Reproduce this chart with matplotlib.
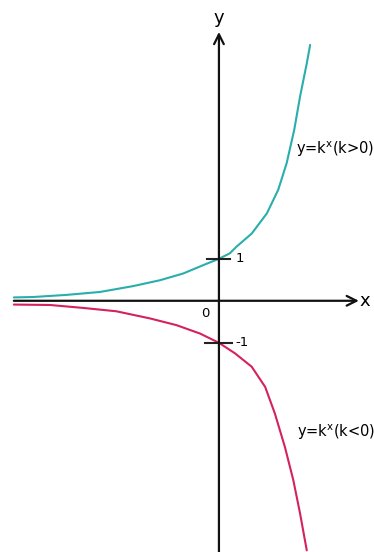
import matplotlib.pyplot as plt

# points (1 unit = tick spacing)
pos_x = [-4.88, -4.42, -3.63, -2.83, -2.04, -1.40, -0.85, -0.37, 0.0, 0.26, 0.42,
         0.78, 1.14, 1.41, 1.61, 1.79, 1.93, 2.09, 2.17]
pos_y = [0.08, 0.09, 0.14, 0.21, 0.35, 0.49, 0.65, 0.85, 1.0, 1.13, 1.29,
         1.60, 2.08, 2.64, 3.27, 4.06, 4.86, 5.65, 6.09]
neg_x = [-4.88, -4.02, -3.23, -2.44, -1.64, -1.01, -0.45, 0.0, 0.38, 0.78,
         1.10, 1.33, 1.57, 1.77, 1.93, 2.09]
neg_y = [-0.09, -0.10, -0.17, -0.25, -0.42, -0.58, -0.78, -1.0, -1.25, -1.57,
         -2.05, -2.68, -3.48, -4.27, -5.06, -5.94]
tick_vals = [1, -1]
tick_labels = ['1', '-1']
curve_labels = [r'y=k$^{\mathregular{x}}$(k>0)', r'y=k$^{\mathregular{x}}$(k<0)']

fig = plt.figure(figsize=(3.74, 5.52), dpi=100)
ax = fig.add_axes([0, 0, 1, 1])
ax.set_xlim(-5.21, 3.69)
ax.set_ylim(-5.98, 7.16)
ax.axis('off')

# axes with open arrow heads
arrow = dict(arrowstyle='->,head_length=0.7,head_width=0.35', lw=1.6, color='#111111',
             shrinkA=0, shrinkB=0)
ax.annotate('', xy=(3.33, 0), xytext=(-4.88, 0), arrowprops=arrow)
ax.annotate('', xy=(0, 6.4), xytext=(0, -6.1), arrowprops=arrow)

ax.plot(pos_x, pos_y, color='#2aaeac', lw=1.5, solid_capstyle='round', solid_joinstyle='round')
ax.plot(neg_x, neg_y, color='#d42160', lw=1.5, solid_capstyle='round', solid_joinstyle='round')

# tick marks on y axis
ax.plot([-0.29, 0.26], [tick_vals[0], tick_vals[0]], color='#222222', lw=1.5)
ax.plot([-0.33, 0.31], [tick_vals[1], tick_vals[1]], color='#222222', lw=1.5)
ax.text(0.4, tick_vals[0], tick_labels[0], fontsize=9.5, va='center', ha='left')
ax.text(0.4, tick_vals[1], tick_labels[1], fontsize=9.5, va='center', ha='left')
ax.text(-0.32, -0.3, '0', fontsize=9.5, va='center', ha='center')

ax.text(3.47, 0.0, 'x', fontsize=13, va='center', ha='center')
ax.text(0.0, 6.72, 'y', fontsize=13, va='center', ha='center')

ax.text(1.83, 3.6, curve_labels[0], fontsize=10.5, va='center', ha='left')
ax.text(1.85, -3.13, curve_labels[1], fontsize=10.5, va='center', ha='left')

fig.savefig('out.png', dpi=100)
